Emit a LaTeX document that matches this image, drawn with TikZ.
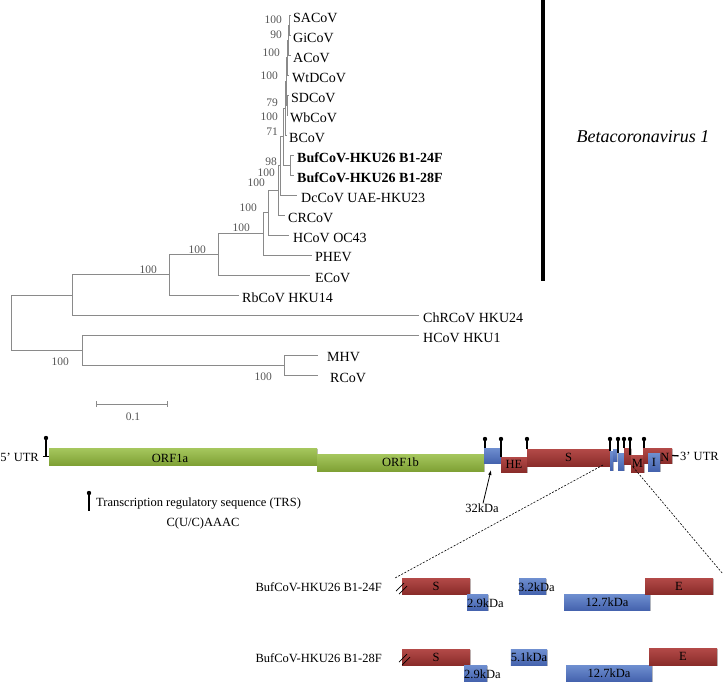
\documentclass[tikz,border=0pt]{standalone}
\usepackage{fontspec}
\setmainfont{Liberation Serif}
\usetikzlibrary{positioning,shadows,arrows.meta}

\definecolor{treegray}{HTML}{8A8A8A}
\definecolor{bootgray}{HTML}{555555}
\definecolor{greenT}{HTML}{A6C75E}
\definecolor{greenB}{HTML}{7FA135}
\definecolor{redT}{HTML}{B34A48}
\definecolor{redB}{HTML}{8A2C2A}
\definecolor{blueT}{HTML}{6F8FD0}
\definecolor{blueB}{HTML}{4563AE}

\newcommand{\leaffont}{\fontsize{14}{16}\selectfont}
\newcommand{\bootfont}{\fontsize{11.5}{13}\selectfont}
\newcommand{\genefont}{\fontsize{12.5}{14}\selectfont}

\tikzset{
  treeline/.style={draw=treegray, line width=0.8pt},
  leaf/.style={font=\leaffont, inner sep=0pt, yshift=-2.5pt},
  boot/.style={font=\bootfont, text=bootgray, inner sep=0pt, anchor=east},
  gene/.style={font=\genefont, inner sep=0pt},
  orfbar/.style={inner sep=0pt, font=\genefont,
    drop shadow={shadow xshift=1pt, shadow yshift=-1pt, fill=black, opacity=0.25}},
  greenbar/.style={orfbar, top color=greenT, bottom color=greenB},
  redbar/.style={orfbar, top color=redT, bottom color=redB},
  bluebar/.style={orfbar, top color=blueT, bottom color=blueB},
  trs/.style={line width=1.1pt},
  zoomline/.style={dashed, dash pattern=on 2pt off 1.5pt, line width=0.6pt},
}

\begin{document}
\begin{tikzpicture}[x=1pt, y=-1pt]
  \useasboundingbox (0,0) rectangle (723,686);

  % tree: leaf tips
  \coordinate (tSACoV) at (291,15);
  \coordinate (tGiCoV) at (291,35);
  \coordinate (tACoV) at (291,55);
  \coordinate (tWtDCoV) at (289,75);
  \coordinate (tSDCoV) at (289,95);
  \coordinate (tWbCoV) at (288,115);
  \coordinate (tBCoV) at (287,135);
  \coordinate (tBufA) at (294,155);
  \coordinate (tBufB) at (294,175);
  \coordinate (tDcCoV) at (297,195);
  \coordinate (tCRCoV) at (285,215);
  \coordinate (tOCxliii) at (289,235);
  \coordinate (tPHEV) at (312,255);
  \coordinate (tECoV) at (310,275);
  \coordinate (tRbCoV) at (239,295);
  \coordinate (tChRCoV) at (419,315);
  \coordinate (tHKUi) at (419,335);
  \coordinate (tMHV) at (318,355);
  \coordinate (tRCoV) at (318,375);

  % tree: inner nodes
  \coordinate (n1) at (289,25);
  \coordinate (n2) at (288,40);
  \coordinate (n3) at (287,57.5);
  \coordinate (n4) at (287,105);
  \coordinate (n5) at (286,81.2);
  \coordinate (n6) at (285,108.1);
  \coordinate (n7) at (290,165);
  \coordinate (n8) at (283,136.6);
  \coordinate (n9) at (280,165.8);
  \coordinate (n10) at (278,190.4);
  \coordinate (n11) at (268,212.7);
  \coordinate (n12) at (263,233.8);
  \coordinate (n13) at (218,254.4);
  \coordinate (n14) at (169,274.7);
  \coordinate (n15) at (72,294.9);
  \coordinate (n16) at (284,365);
  \coordinate (n17) at (82,350);
  \coordinate (root) at (11,322.4);

  \foreach \p/\c in {n1/tSACoV, n1/tGiCoV, n2/n1, n2/tACoV, n3/n2, n3/tWtDCoV,
      n4/tSDCoV, n4/tWbCoV, n5/n3, n5/n4, n6/n5, n6/tBCoV, n7/tBufA, n7/tBufB,
      n8/n6, n8/n7, n9/n8, n9/tDcCoV, n10/n9, n10/tCRCoV, n11/n10, n11/tOCxliii,
      n12/n11, n12/tPHEV, n13/n12, n13/tECoV, n14/n13, n14/tRbCoV, n15/n14,
      n15/tChRCoV, n16/tMHV, n16/tRCoV, n17/tHKUi, n17/n16, root/n15, root/n17}
    \draw[treeline] (\p) |- (\c);

  \foreach \t/\txt/\gap in {SACoV/SACoV/2, GiCoV/GiCoV/2, ACoV/ACoV/2,
      WtDCoV/WtDCoV/3, SDCoV/SDCoV/2, WbCoV/WbCoV/2, BCoV/BCoV/2,
      DcCoV/DcCoV UAE-HKU23/4, CRCoV/CRCoV/3, OCxliii/HCoV OC43/4,
      PHEV/PHEV/3, ECoV/ECoV/5, RbCoV/RbCoV HKU14/3, ChRCoV/ChRCoV HKU24/4,
      HKUi/HCoV HKU1/4, MHV/MHV/9, RCoV/RCoV/12}
    \node[leaf, right=\gap pt of t\t] (\t) {\txt};
  \node[leaf, font=\leaffont\bfseries, right=3pt of tBufA] (BufA) {BufCoV-HKU26 B1-24F};
  \node[leaf, font=\leaffont\bfseries, right=3pt of tBufB] (BufB) {BufCoV-HKU26 B1-28F};

  % bootstrap values
  \foreach \x/\y/\v [count=\i] in {282/20/100, 282/35/90, 280/53/100, 278/76/100,
      278/103/79, 278/117/100, 278/132/71, 277/162/98, 275/173/100, 265/183/100,
      257/208/100, 250/228/100, 206/250/100, 157/270/100, 69/362/100, 272/377/100}
    \node[boot] (bs\i) at (\x,\y) {\v};

  % scale bar
  \coordinate (sb0) at (96,404);
  \coordinate (sb1) at (167,404);
  \draw[treeline] (sb0) -- (sb1);
  \draw[treeline] ([yshift=3pt]sb0) -- ([yshift=-3pt]sb0);
  \draw[treeline] ([yshift=3pt]sb1) -- ([yshift=-3pt]sb1);
  \node[boot, anchor=center] (sblabel) at (133,417) {0.1};

  % clade bar
  \coordinate (cladetop) at (543,0);
  \coordinate (cladebot) at (543,281);
  \draw[line width=3.2pt] (cladetop) -- (cladebot);
  \node[font=\fontsize{18}{20}\selectfont\itshape, inner sep=0pt] (cladename) at (643,137) {Betacoronavirus 1};

  % genome
  \node[gene, anchor=east] (utr5) at (39,457) {5’ UTR};
  \node[greenbar, minimum width=268, minimum height=17] (orf1a) at (183,456.5) {};
  \node[gene] (orf1alab) at (170,458) {ORF1a};
  \node[greenbar, minimum width=167, minimum height=17] (orf1b) at (400.5,462.5) {ORF1b};
  \node[bluebar, minimum width=17, minimum height=15] (g32) at (492.5,455.5) {};
  \node[redbar, minimum width=26, minimum height=15] (gHE) at (514,464.5) {HE};
  \node[redbar, minimum width=83, minimum height=17] (gS) at (568.5,457.5) {S};
  \node[bluebar, minimum width=3, minimum height=19] (g29) at (611.5,460.5) {};
  \node[bluebar, minimum width=4, minimum height=12] (g32b) at (615,455) {};
  \node[bluebar, minimum width=6, minimum height=17] (g127) at (621,461.5) {};
  \node[redbar, minimum width=7, minimum height=16] (gE) at (627.5,456) {};
  \node[redbar, minimum width=13, minimum height=17] (gM) at (637.5,463.5) {M};
  \node[redbar, minimum width=29, minimum height=15] (gN) at (657.5,455.5) {};
  \node[gene] (gNlab) at (665,457) {N};
  \node[bluebar, minimum width=12, minimum height=18] (gI) at (654,462) {I};
  \node[gene, anchor=west] (utr3) at (680,456) {3’ UTR};
  \draw[line width=1.3pt, shorten >=1.5pt] (gN.east) -- (utr3.west);

  % TRS pins
  \coordinate (trs0) at (46,438);
  \fill (trs0) circle (2.2);
  \draw[trs] (trs0) -- (46,456.5);
  \draw[trs] ([xshift=-6pt]orf1a.west) -- (orf1a.west);
  \foreach \x/\yb [count=\i] in {485/448, 501/457, 527/449, 610/451, 618/453,
      624/448, 630/455, 644/448} {
    \coordinate (trs\i) at (\x,439);
    \fill (trs\i) circle (2.2);
    \draw[trs] (trs\i) -- (\x,\yb);
  }

  \node[gene] (lab32) at (482,508) {32kDa};
  \coordinate (tip32) at (491,470);
  \draw[-{Latex[length=5pt,width=3.5pt]}, line width=0.8pt] ([xshift=1pt]lab32.north) -- (tip32);

  % legend
  \coordinate (legpin) at (89,493);
  \fill (legpin) circle (2.2);
  \draw[trs] (legpin) -- (89,511);
  \node[gene, anchor=west] (legtrs) at (96,504) {Transcription regulatory sequence (TRS)};
  \node[gene] (legmotif) at (203,523) {C(U/C)AAAC};

  % zoom lines
  \coordinate (zoomL) at (603,465);
  \coordinate (zoomLend) at (395,578);
  \coordinate (zoomR) at (633,467);
  \coordinate (zoomRend) at (723,574);
  \draw[zoomline] (zoomL) -- (zoomLend);
  \draw[zoomline] (zoomR) -- (zoomRend);

  % inset B1-24F
  \node[gene, anchor=east] (rowA) at (382,587) {BufCoV-HKU26 B1-24F};
  \node[redbar, minimum width=68, minimum height=16] (SA) at (436,586) {S};
  \node[bluebar, minimum width=21, minimum height=16] (kA29) at (477.5,602) {};
  \node[gene, anchor=west] (kA29lab) at (467,603) {2.9kDa};
  \node[bluebar, minimum width=27, minimum height=16] (kA32) at (532.5,586) {};
  \node[gene, anchor=west] (kA32lab) at (518,587) {3.2kDa};
  \node[bluebar, minimum width=86, minimum height=16] (kA127) at (607,602) {12.7kDa};
  \node[redbar, minimum width=68, minimum height=16] (EA) at (679,586) {E};
  \draw[line width=0.7pt] (396,591) -- (404,583);
  \draw[line width=0.7pt] (399,594) -- (407,586);

  % inset B1-28F
  \node[gene, anchor=east] (rowB) at (382,658) {BufCoV-HKU26 B1-28F};
  \node[redbar, minimum width=68, minimum height=16] (SB) at (436,657) {S};
  \node[bluebar, minimum width=23, minimum height=16] (kB29) at (475.5,673) {};
  \node[gene, anchor=west] (kB29lab) at (464,674) {2.9kDa};
  \node[bluebar, minimum width=36, minimum height=16] (kB51) at (529,657) {5.1kDa};
  \node[bluebar, minimum width=86, minimum height=16] (kB127) at (609,673) {12.7kDa};
  \node[redbar, minimum width=68, minimum height=17] (EB) at (683,656.5) {E};
  \draw[line width=0.7pt] (399,662) -- (407,654);
  \draw[line width=0.7pt] (402,665) -- (410,657);
\end{tikzpicture}
\end{document}
